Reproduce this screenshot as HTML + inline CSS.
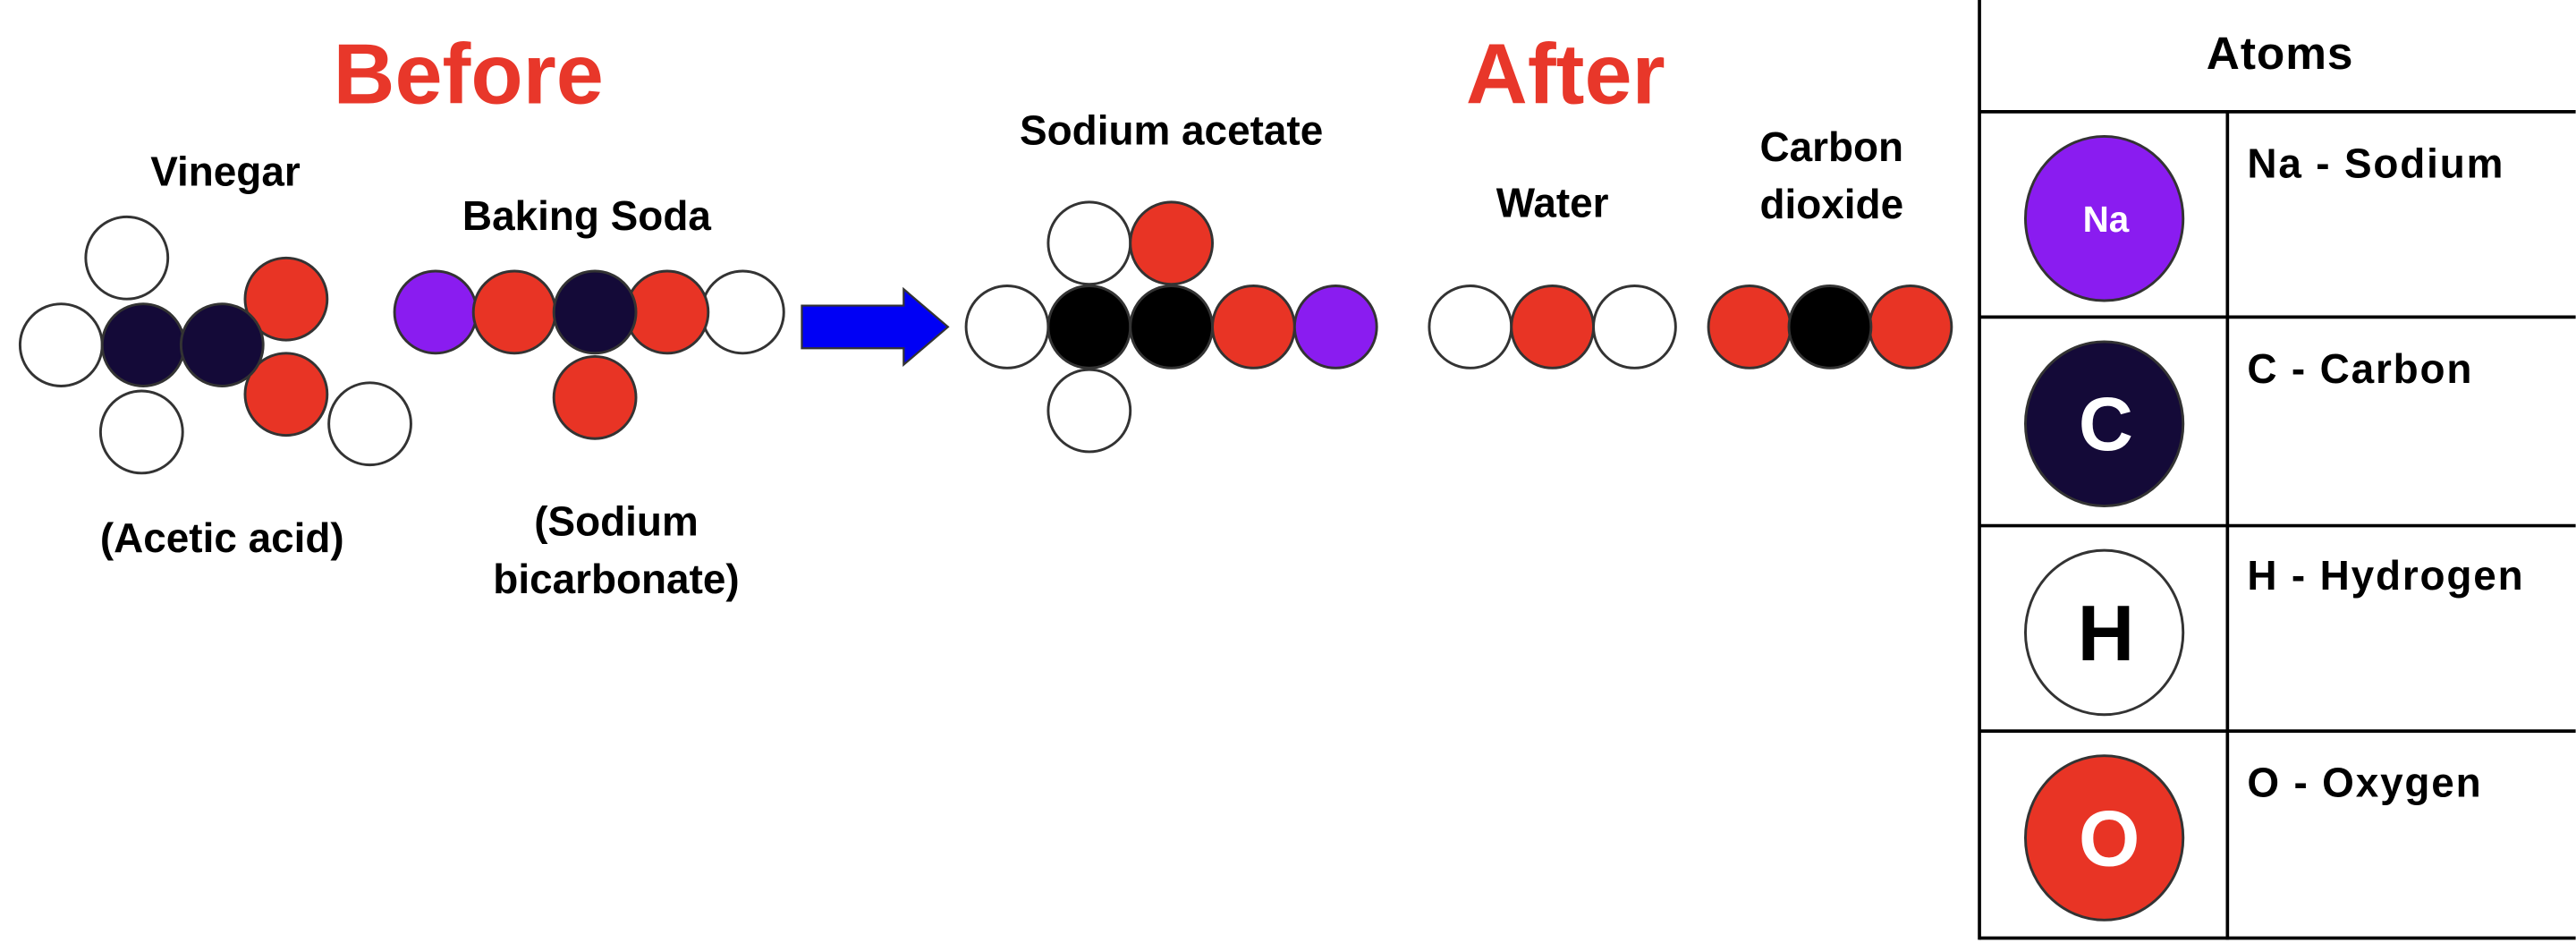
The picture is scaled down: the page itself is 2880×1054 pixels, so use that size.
<!DOCTYPE html>
<html><head><meta charset="utf-8"><style>
html,body{margin:0;padding:0;background:#fff;}
svg{display:block;}
text{font-family:"Liberation Sans",sans-serif;font-weight:bold;}
</style></head><body>
<svg width="2880" height="1054" viewBox="0 0 1568 574" xmlns="http://www.w3.org/2000/svg">
<rect width="1568" height="574" fill="#fff"/>
<g text-anchor="middle">
<text x="285" y="63" font-size="52" fill="#e8372a">Before</text>
<text x="953" y="63" font-size="52" fill="#e8372a">After</text>
<text x="137" y="113" font-size="25" fill="#000">Vinegar</text>
<text x="357" y="140" font-size="25" fill="#000">Baking Soda</text>
<text x="135" y="336" font-size="25" fill="#000">(Acetic acid)</text>
<text x="375" y="326" font-size="25" fill="#000">(Sodium</text>
<text x="375" y="361" font-size="25" fill="#000">bicarbonate)</text>
<text x="713" y="88" font-size="25" fill="#000">Sodium acetate</text>
<text x="945" y="132" font-size="25" fill="#000">Water</text>
<text x="1115" y="98" font-size="25" fill="#000">Carbon</text>
<text x="1115" y="133" font-size="25" fill="#000">dioxide</text>
</g>
<g stroke="#333" stroke-width="1.6">
<circle cx="77" cy="157" r="25" fill="#fff"/>
<circle cx="37" cy="210" r="25" fill="#fff"/>
<circle cx="86" cy="263" r="25" fill="#fff"/>
<circle cx="225" cy="258" r="25" fill="#fff"/>
<circle cx="174" cy="182" r="25" fill="#e83425"/>
<circle cx="174" cy="240" r="25" fill="#e83425"/>
<circle cx="87" cy="210" r="25" fill="#140a38"/>
<circle cx="135" cy="210" r="25" fill="#140a38"/>
<circle cx="452" cy="190" r="25" fill="#fff"/>
<circle cx="265" cy="190" r="25" fill="#8a1cf0"/>
<circle cx="313" cy="190" r="25" fill="#e83425"/>
<circle cx="406" cy="190" r="25" fill="#e83425"/>
<circle cx="362" cy="190" r="25" fill="#140a38"/>
<circle cx="362" cy="242" r="25" fill="#e83425"/>
<circle cx="613" cy="199" r="25" fill="#fff"/>
<circle cx="663" cy="148" r="25" fill="#fff"/>
<circle cx="713" cy="148" r="25" fill="#e83425"/>
<circle cx="663" cy="250" r="25" fill="#fff"/>
<circle cx="663" cy="199" r="25" fill="#000"/>
<circle cx="713" cy="199" r="25" fill="#000"/>
<circle cx="763" cy="199" r="25" fill="#e83425"/>
<circle cx="813" cy="199" r="25" fill="#8a1cf0"/>
<circle cx="895" cy="199" r="25" fill="#fff"/>
<circle cx="995" cy="199" r="25" fill="#fff"/>
<circle cx="945" cy="199" r="25" fill="#e83425"/>
<circle cx="1065" cy="199" r="25" fill="#e83425"/>
<circle cx="1163" cy="199" r="25" fill="#e83425"/>
<circle cx="1114" cy="199" r="25" fill="#000"/>
</g>
<polygon points="488,186 550,186 550,176 577,199 550,222 550,212 488,212" fill="#0000f5" stroke="#333" stroke-width="1.2"/>
<g stroke="#000" stroke-width="2" fill="none">
<line x1="1205" y1="0" x2="1205" y2="572"/>
<line x1="1205" y1="68" x2="1568" y2="68"/>
<line x1="1356" y1="68" x2="1356" y2="572"/>
<line x1="1205" y1="193" x2="1568" y2="193"/>
<line x1="1205" y1="320" x2="1568" y2="320"/>
<line x1="1205" y1="445" x2="1568" y2="445"/>
<line x1="1205" y1="571" x2="1568" y2="571"/>
</g>
<text x="1388" y="42" font-size="28" text-anchor="middle" fill="#000" letter-spacing="0.5">Atoms</text>
<g stroke="#333" stroke-width="1.6">
<ellipse cx="1281" cy="133" rx="48" ry="50" fill="#8a1cf0"/>
<ellipse cx="1281" cy="258" rx="48" ry="50" fill="#140a38"/>
<ellipse cx="1281" cy="385" rx="48" ry="50" fill="#fff"/>
<ellipse cx="1281" cy="510" rx="48" ry="50" fill="#e83425"/>
</g>
<g text-anchor="middle">
<text x="1282" y="141" font-size="22" fill="#fff">Na</text>
<text x="1282" y="274" font-size="46" fill="#fff">C</text>
<text x="1282" y="402" font-size="48" fill="#000">H</text>
<text x="1284" y="527" font-size="48" fill="#fff">O</text>
</g>
<g font-size="25" fill="#000" letter-spacing="1">
<text x="1368" y="108">Na - Sodium</text>
<text x="1368" y="233">C - Carbon</text>
<text x="1368" y="359">H - Hydrogen</text>
<text x="1368" y="485">O - Oxygen</text>
</g>
</svg>
</body></html>
